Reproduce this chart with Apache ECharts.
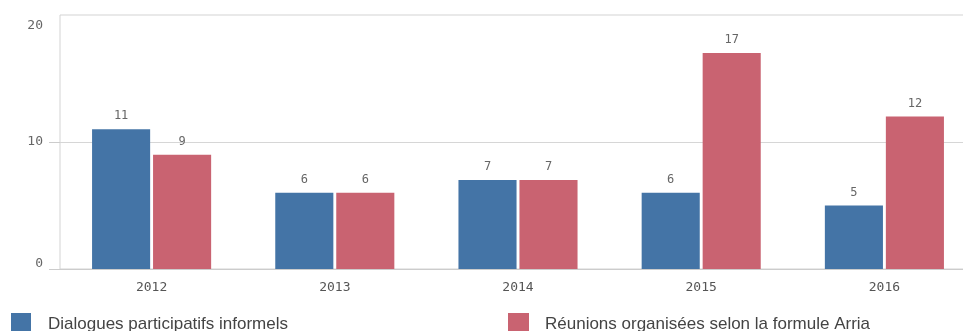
<!DOCTYPE html>
<html>
<head>
<meta charset="utf-8">
<script src="https://cdn.jsdelivr.net/npm/echarts@6/dist/echarts.min.js"></script>
<style>
  html, body { margin: 0; padding: 0; background: #fff; overflow: hidden; }
  #chart { width: 976px; height: 331px; }
</style>
</head>
<body>
<div id="chart"></div>
<script>
// Annual counts of meeting formats
const years = ['2012', '2013', '2014', '2015', '2016'];
const dialogues = [11, 6, 7, 6, 5];
const arria = [9, 6, 7, 17, 12];
const seriesNames = ['Dialogues participatifs informels', 'Réunions organisées selon la formule Arria'];
const yTicks = [0, 10, 20];

const MONO = '"DejaVu Sans Mono", monospace';
const SANS = '"Liberation Sans", Arial, sans-serif';
const BLUE = '#4474a6';
const RED = '#c96371';

const chart = echarts.init(document.getElementById('chart'), null, { renderer: 'canvas' });

const valueLabel = {
  show: true,
  position: 'top',
  distance: 7,
  fontFamily: MONO,
  fontSize: 12,
  color: '#666'
};

chart.setOption({
  animation: false,
  // the plot runs slightly past the right edge of the visible page
  grid: {
    left: 60, top: 15, right: 0, height: 254, containLabel: false,
    show: true, borderColor: '#d3d3d3', borderWidth: 1, backgroundColor: 'transparent'
  },
  legend: [
    {
      data: [seriesNames[0]], left: 11, top: 313, icon: 'rect', padding: 0,
      itemWidth: 20, itemHeight: 22,
      textStyle: { fontFamily: SANS, fontSize: 17, color: '#444', padding: [0, 0, 0, 12] }
    },
    {
      data: [seriesNames[1]], left: 508, top: 313, icon: 'rect', padding: 0,
      itemWidth: 21, itemHeight: 22,
      textStyle: { fontFamily: SANS, fontSize: 17, color: '#444', padding: [0, 0, 0, 11] }
    }
  ],
  xAxis: {
    type: 'category',
    data: years,
    axisLine: { show: true, lineStyle: { color: '#cccccc', width: 1 } },
    axisTick: { show: false },
    axisLabel: { fontFamily: MONO, fontSize: 13, color: '#555', margin: 12 }
  },
  yAxis: {
    type: 'value',
    min: 0,
    max: 20,
    interval: 10,
    axisLine: { show: false },
    axisTick: {
      show: true, length: 11, customValues: [0, 10],
      lineStyle: { color: '#cccccc' }
    },
    splitLine: { show: true, lineStyle: { color: '#d6d6d6', width: 1 } },
    axisLabel: {
      margin: 17,
      fontFamily: MONO,
      fontSize: 13,
      color: '#666',
      customValues: yTicks,
      formatter: function (v) {
        if (v === 20) return '{hi|' + v + '}';
        if (v === 0) return '{lo|' + v + '}';
        return '{mid|' + v + '}';
      },
      rich: {
        hi: { fontFamily: MONO, fontSize: 13, color: '#666', padding: [22, 0, 0, 0] },
        lo: { fontFamily: MONO, fontSize: 13, color: '#666', padding: [0, 0, 10, 0] },
        mid: { fontFamily: MONO, fontSize: 13, color: '#666' }
      }
    }
  },
  series: [
    {
      name: seriesNames[0],
      type: 'bar',
      data: dialogues,
      itemStyle: { color: BLUE },
      barGap: '5%',
      barCategoryGap: '35%',
      label: valueLabel
    },
    {
      name: seriesNames[1],
      type: 'bar',
      data: arria,
      itemStyle: { color: RED },
      barGap: '5%',
      barCategoryGap: '35%',
      label: valueLabel
    }
  ]
});
</script>
</body>
</html>
